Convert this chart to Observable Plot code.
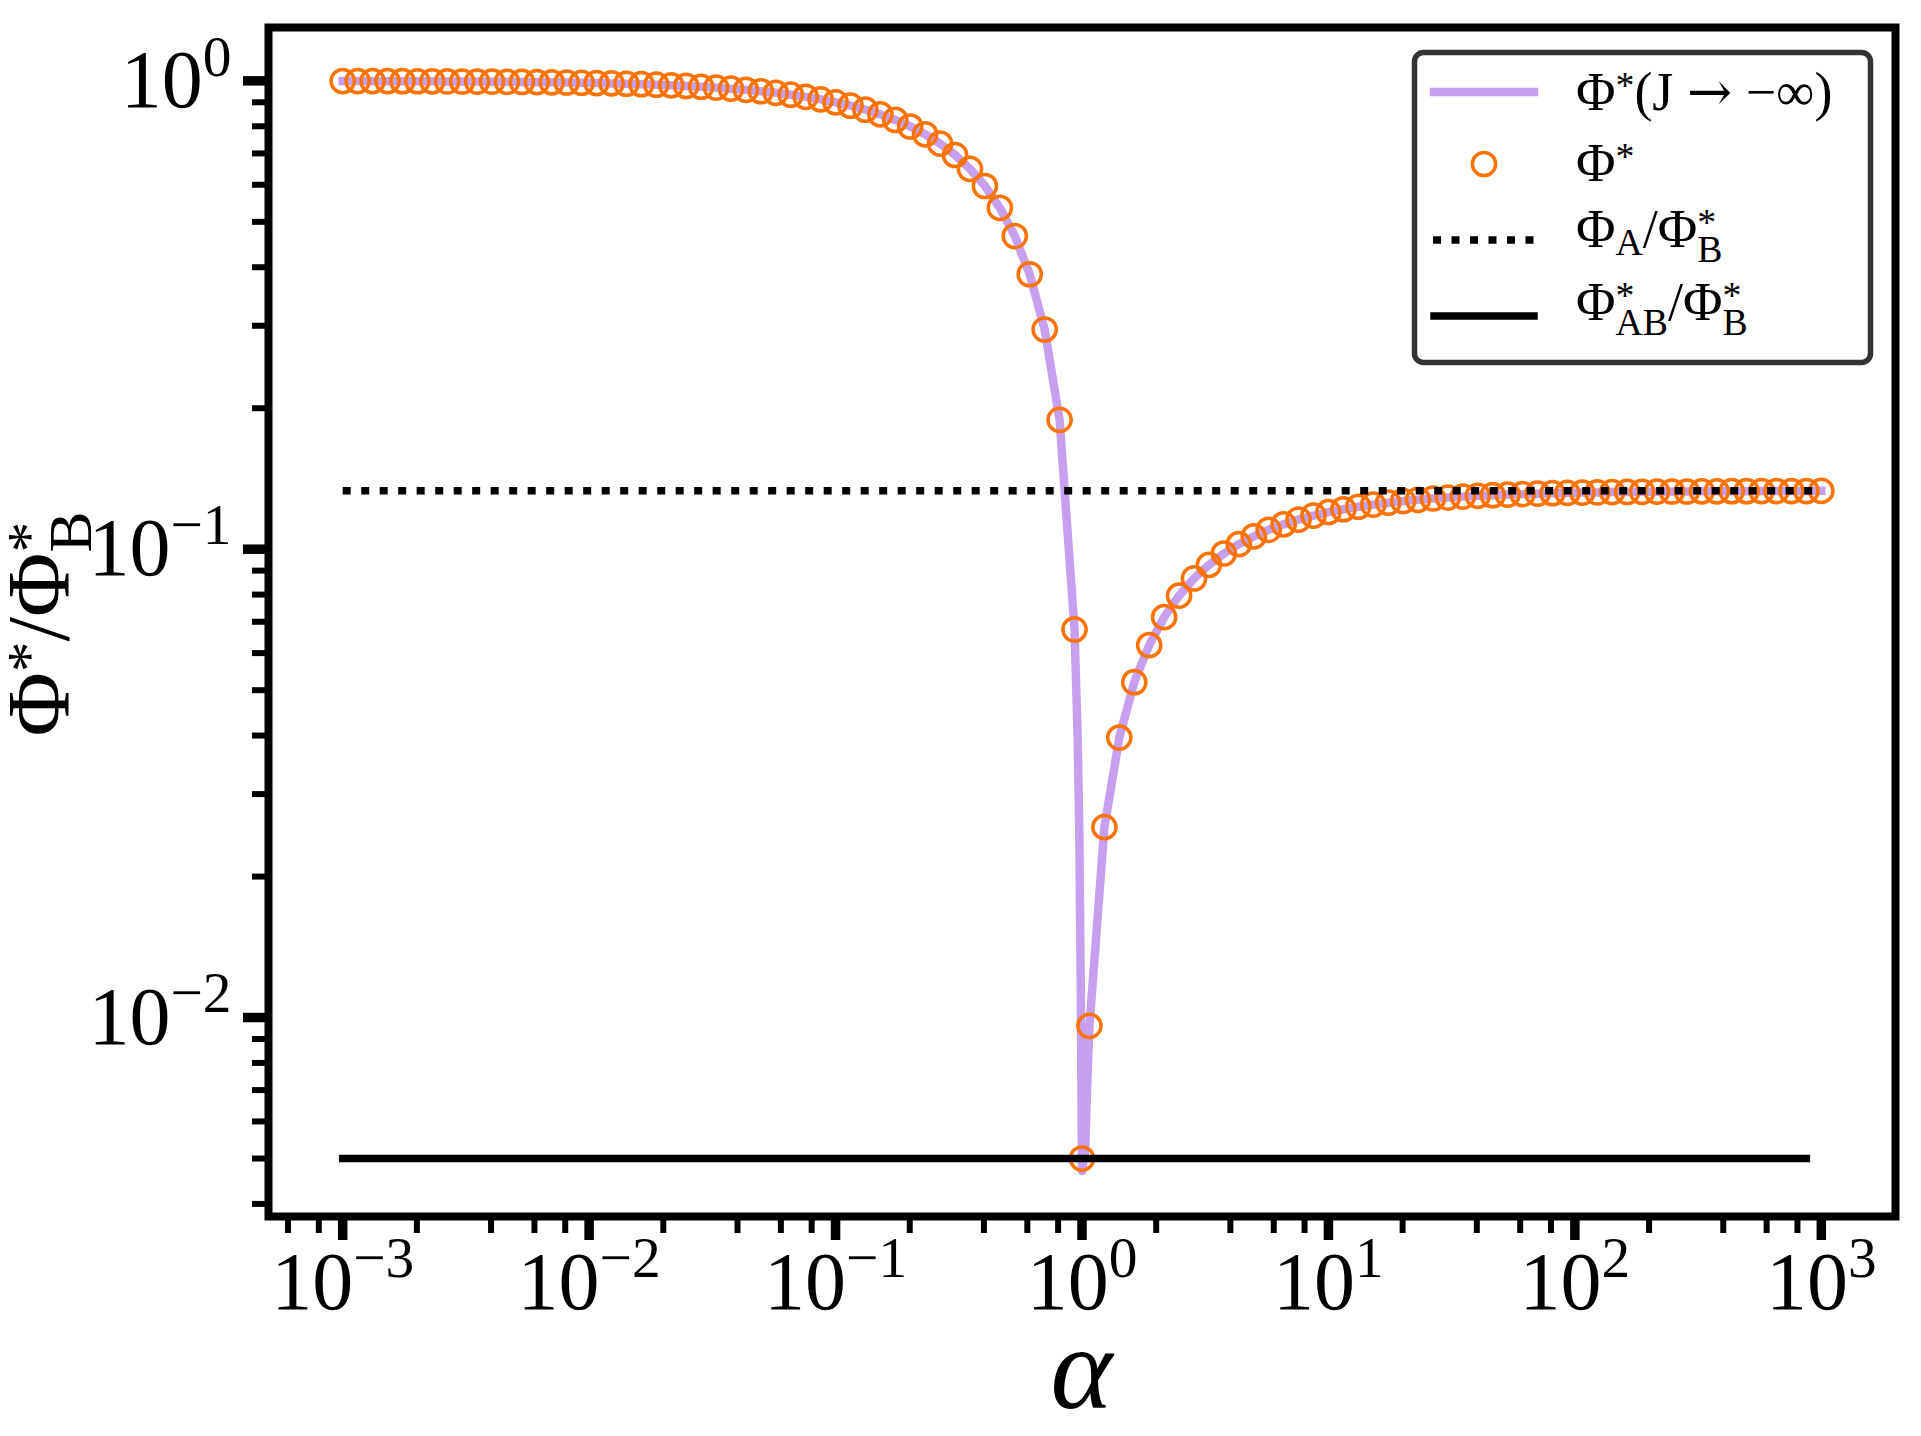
<!DOCTYPE html>
<html><head><meta charset="utf-8">
<script src="https://cdn.jsdelivr.net/npm/d3@7"></script>
<script src="https://cdn.jsdelivr.net/npm/@observablehq/plot@0.6"></script>
<style>
body{margin:0;background:#fff;}
#chart{position:relative;width:1921px;height:1436px;}
</style></head><body><div id="chart"></div>
<script>
// ---- data ----
const alpha = [0.001, 0.00115, 0.001322, 0.00152, 0.001748, 0.002009, 0.00231, 0.002656, 0.003054, 0.003511,
  0.004037, 0.004642, 0.005337, 0.006136, 0.007055, 0.008111, 0.009326, 0.01072, 0.01233, 0.01417,
  0.0163, 0.01874, 0.02154, 0.02477, 0.02848, 0.03275, 0.03765, 0.04329, 0.04977, 0.05722,
  0.06579, 0.07565, 0.08697, 0.1, 0.115, 0.1322, 0.152, 0.1748, 0.2009, 0.231,
  0.2656, 0.3054, 0.3511, 0.4037, 0.4642, 0.5337, 0.6136, 0.7055, 0.8111, 0.9326,
  1.072, 1.233, 1.417, 1.63, 1.874, 2.154, 2.477, 2.848, 3.275, 3.765,
  4.329, 4.977, 5.722, 6.579, 7.565, 8.697, 10, 11.5, 13.22, 15.2,
  17.48, 20.09, 23.1, 26.56, 30.54, 35.11, 40.37, 46.42, 53.37, 61.36,
  70.55, 81.11, 93.26, 107.2, 123.3, 141.7, 163, 187.4, 215.4, 247.7,
  284.8, 327.5, 376.5, 432.9, 497.7, 572.2, 657.9, 756.5, 869.7, 1000];
const phiStar = [0.999, 0.9989, 0.9987, 0.9985, 0.9983, 0.998, 0.9977, 0.9973, 0.9969, 0.9965,
  0.996, 0.9954, 0.9947, 0.9939, 0.9929, 0.9919, 0.9907, 0.9893, 0.9877, 0.9858,
  0.9837, 0.9813, 0.9785, 0.9752, 0.9715, 0.9673, 0.9624, 0.9567, 0.9502, 0.9428,
  0.9342, 0.9244, 0.913, 0.9, 0.885, 0.8678, 0.848, 0.8252, 0.7991, 0.769,
  0.7344, 0.6946, 0.6489, 0.5963, 0.5358, 0.4663, 0.3864, 0.2945, 0.1889, 0.0674,
  0.0096, 0.0255, 0.0396, 0.052, 0.0624, 0.0716, 0.0796, 0.0866, 0.0926, 0.0979,
  0.1025, 0.1065, 0.11, 0.113, 0.1157, 0.118, 0.12, 0.1217, 0.1232, 0.1245,
  0.1257, 0.1267, 0.1275, 0.1283, 0.1289, 0.1295, 0.13, 0.1304, 0.1308, 0.1311,
  0.1314, 0.1317, 0.1319, 0.1321, 0.1322, 0.1324, 0.1325, 0.1326, 0.1327, 0.1328,
  0.1328, 0.1329, 0.1329, 0.133, 0.133, 0.1331, 0.1331, 0.1331, 0.1331, 0.1332];
const extraAlpha = [1.0];
const extraPhiStar = [0.005];
// J -> -infinity curve: same grid, with extra points close to alpha = 1
const dipAlpha = [0.96, 0.975, 0.988, 1.0, 1.03, 1.05];
const dipJinf = [0.04, 0.025, 0.012, 0.0047, 0.0052, 0.0072];
const phiA_over_phiB = 0.1333;
const phiAB_over_phiB = 0.005;
const dottedAlpha = [0.001, 1000];
const solidAlpha = [0.001, 869.7];

const xMajor = [1e-3, 1e-2, 1e-1, 1, 10, 100, 1000];
const xMajorLabels = ["10^−3", "10^−2", "10^−1", "10^0", "10^1", "10^2", "10^3"];
const xMinor = [6e-4, 8e-4, 2e-3, 4e-3, 6e-3, 8e-3, 2e-2, 4e-2, 6e-2, 8e-2, 0.2, 0.4, 0.6, 0.8,
  2, 4, 6, 8, 20, 40, 60, 80, 200, 400, 600, 800];
const yMajor = [0.01, 0.1, 1];
const yMajorLabels = ["10^−2", "10^−1", "10^0"];
const yMinor = [0.004, 0.005, 0.006, 0.007, 0.008, 0.009, 0.02, 0.03, 0.04, 0.05, 0.06, 0.07, 0.08, 0.09,
  0.2, 0.3, 0.4, 0.5, 0.6, 0.7, 0.8, 0.9];

// ---- tables ----
const circles = alpha.map((a, i) => ({a, v: phiStar[i]}))
  .concat(extraAlpha.map((a, i) => ({a, v: extraPhiStar[i]})));
const lineA = [...alpha.slice(0, 50), ...dipAlpha, ...alpha.slice(50)];
const lineV = [...phiStar.slice(0, 50), ...dipJinf, ...phiStar.slice(50)];
const jinf = lineA.map((a, i) => ({a, v: lineV[i]}));
const dotted = dottedAlpha.map(a => ({a, v: phiA_over_phiB}));
const solid = solidAlpha.map(a => ({a, v: phiAB_over_phiB}));

const W = 1921, H = 1436, mL = 268, mT = 27, mR = 26, mB = 220;
const FONT = "'Liberation Serif', 'DejaVu Serif', serif";
const PURPLE = "#c79fef", ORANGE = "#f97306";

const plot = Plot.plot({
  width: W, height: H,
  marginLeft: mL, marginTop: mT, marginRight: mR, marginBottom: mB,
  style: {fontFamily: FONT, background: "#fff", color: "#000"},
  x: {type: "log", domain: [5.0e-4, 2.0e3]},
  y: {type: "log", domain: [0.00376, 1.30]},
  marks: [
    Plot.line(jinf, {x: "a", y: "v", stroke: PURPLE, strokeWidth: 8.5, strokeLinecap: "square", clip: true}),
    Plot.dot(circles, {x: "a", y: "v", r: 11.6, stroke: ORANGE, strokeWidth: 3.5, fill: "none"}),
    Plot.line(dotted, {x: "a", y: "v", stroke: "#000", strokeWidth: 7.5, strokeDasharray: "8,10.5", strokeLinecap: "butt"}),
    Plot.line(solid, {x: "a", y: "v", stroke: "#000", strokeWidth: 7.5, strokeLinecap: "square"}),
    Plot.axisX(xMinor, {tickSize: 17, strokeWidth: 6, tickFormat: () => "", label: null}),
    Plot.axisX(xMajor, {tickSize: 24, strokeWidth: 9.5, tickPadding: 10, fontSize: 82,
      tickFormat: d => xMajorLabels[xMajor.indexOf(d)], label: null}),
    Plot.axisY(yMinor, {tickSize: 16, strokeWidth: 6, tickFormat: () => "", label: null}),
    Plot.axisY(yMajor, {tickSize: 25, strokeWidth: 9.5, tickPadding: 12, fontSize: 82,
      tickFormat: d => yMajorLabels[yMajor.indexOf(d)], label: null}),
    Plot.frame({stroke: "#000", strokeWidth: 8})
  ]
});
document.getElementById("chart").appendChild(plot);

const NS = "http://www.w3.org/2000/svg";
// tick labels "10^e" -> 10 with superscript
plot.querySelectorAll("text").forEach(t => {
  const s = t.textContent;
  const m = /^10\^(.+)$/.exec(s);
  if (!m) return;
  t.textContent = "";
  const a = document.createElementNS(NS, "tspan");
  a.textContent = "10";
  const b = document.createElementNS(NS, "tspan");
  b.textContent = m[1];
  b.setAttribute("style", "font-size:70%");
  b.setAttribute("dy", "-0.55em");
  t.appendChild(a); t.appendChild(b);
});

const svg = d3.select(plot);
function rich(g, x, y, size, parts, anchor) {
  const t = g.append("text").attr("x", x).attr("y", y)
    .attr("text-anchor", anchor || "start")
    .style("font-family", FONT).style("font-size", size + "px").attr("fill", "#000");
  let cur = 0, prevLen = 0;
  for (const p of parts) {
    const s = (p.shift || 0) * size;
    const fs = p.small ? size * 0.7 : size;
    const ts = t.append("tspan").text(p.t).style("font-size", fs + "px");
    if (p.font) ts.style("font-family", p.font);
    const dy = s - cur; cur = s;
    if (dy) ts.attr("dy", dy);
    if (p.stack) ts.attr("dx", -prevLen);
    prevLen = ts.node().getComputedTextLength();
  }
  return t;
}

// y label
const YLX = 68, YLY = 624;
const yl = rich(svg.append("g"), YLX, YLY, 88, [
  {t: "Φ"}, {t: "*", small: true, shift: -0.22}, {t: "/Φ"},
  {t: "*", small: true, shift: -0.22}, {t: "B", small: true, shift: 0.26, stack: true}
], "middle");
yl.attr("transform", `rotate(-90, ${YLX}, ${YLY})`);

// x label
svg.append("text").attr("x", (mL + (W - mR)) / 2).attr("y", 1408)
  .attr("text-anchor", "middle").style("font-family", FONT).style("font-size", "118px")
  .style("font-style", "italic").text("α");

// legend
const lg = svg.append("g");
lg.append("rect").attr("x", 1414.5).attr("y", 52.5).attr("width", 456).attr("height", 310)
  .attr("rx", 9).attr("fill", "#fff").attr("stroke", "#333").attr("stroke-width", 5.5);
lg.append("line").attr("x1", 1434).attr("x2", 1534).attr("y1", 92).attr("y2", 92)
  .attr("stroke", PURPLE).attr("stroke-width", 8.5).attr("stroke-linecap", "square");
lg.append("circle").attr("cx", 1484).attr("cy", 164).attr("r", 11.6)
  .attr("fill", "none").attr("stroke", ORANGE).attr("stroke-width", 3.5);
lg.append("line").attr("x1", 1433).attr("x2", 1535).attr("y1", 240).attr("y2", 240)
  .attr("stroke", "#000").attr("stroke-width", 7.5).attr("stroke-dasharray", "8,10.5");
lg.append("line").attr("x1", 1434).attr("x2", 1534).attr("y1", 316).attr("y2", 316)
  .attr("stroke", "#000").attr("stroke-width", 7.5).attr("stroke-linecap", "square");
const LF = 54, LX = 1576;
rich(lg, LX, 110, LF, [{t: "Φ"}, {t: "*", small: true, shift: -0.22}, {t: "(J "},
  {t: "→", font: "'DejaVu Serif', serif"}, {t: " −∞)"}]);
rich(lg, LX, 181, LF, [{t: "Φ"}, {t: "*", small: true, shift: -0.22}]);
rich(lg, LX, 247, LF, [{t: "Φ"}, {t: "A", small: true, shift: 0.15}, {t: "/Φ"},
  {t: "*", small: true, shift: -0.22}, {t: "B", small: true, shift: 0.28, stack: true}]);
rich(lg, LX, 320, LF, [{t: "Φ"}, {t: "*", small: true, shift: -0.22},
  {t: "AB", small: true, shift: 0.28, stack: true}, {t: "/Φ"},
  {t: "*", small: true, shift: -0.22}, {t: "B", small: true, shift: 0.28, stack: true}]);
</script></body></html>
